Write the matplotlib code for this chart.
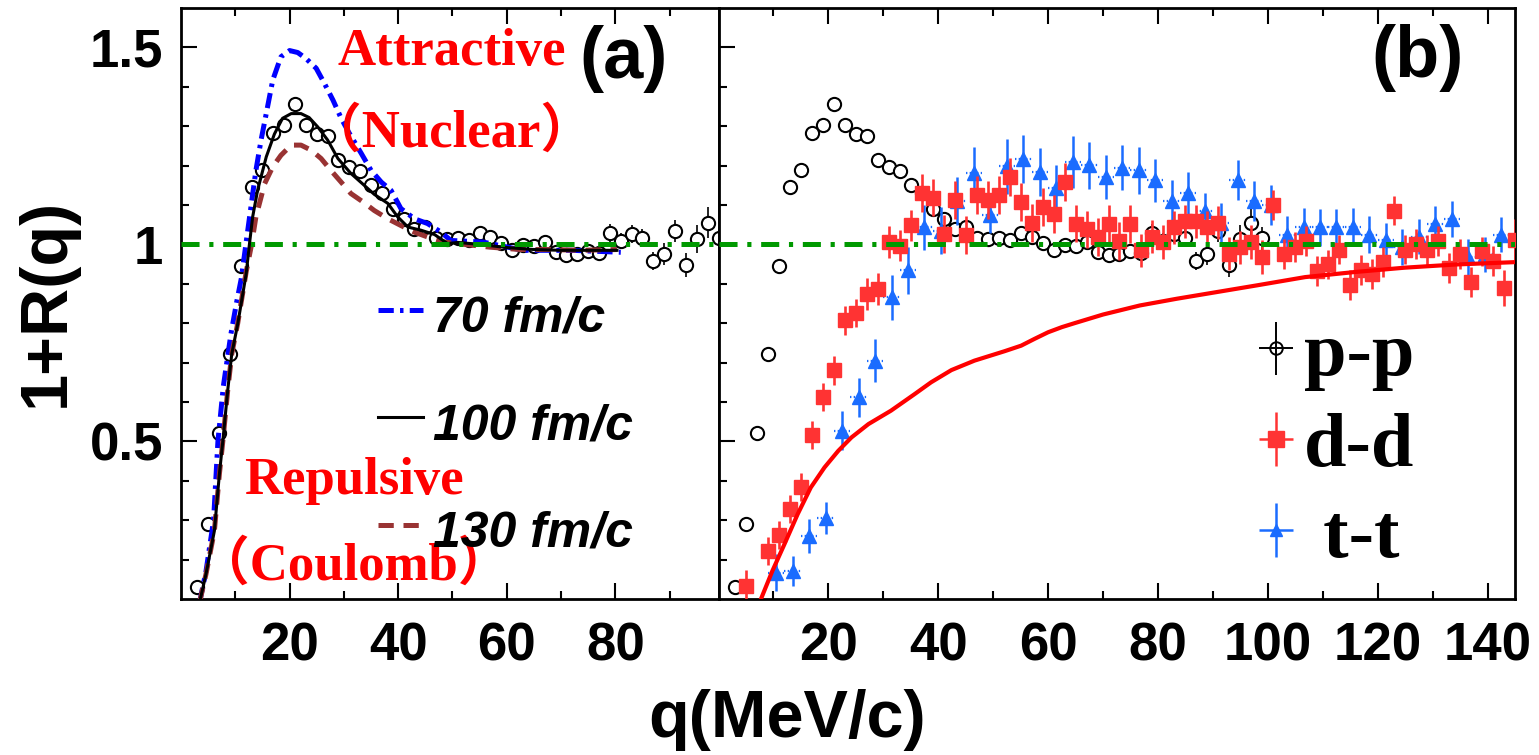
import numpy as np
import matplotlib
matplotlib.use("Agg")
import matplotlib.pyplot as plt
from matplotlib.container import ErrorbarContainer
from matplotlib.legend_handler import HandlerErrorbar

plt.rcParams['font.family'] = ['Liberation Sans', 'DejaVu Sans']
plt.rcParams['font.weight'] = 'bold'
plt.rcParams['lines.scale_dashes'] = False

# ---------------- data ----------------
# p-p correlation function
q_pp = [3, 5, 7, 9, 11, 13, 15, 17, 19, 21, 23, 25, 27, 29, 31, 33, 35, 37, 39, 41,
        43, 45, 47, 49, 51, 53, 55, 57, 59, 61, 63, 65, 67, 69, 71, 73, 75, 77, 79, 81,
        83, 85, 87, 89, 91, 93, 95, 97, 99]
r_pp = [0.13, 0.29, 0.522, 0.722, 0.945, 1.146, 1.19, 1.283, 1.302, 1.357, 1.304, 1.28,
        1.274, 1.213, 1.197, 1.187, 1.152, 1.13, 1.091, 1.065, 1.04, 1.044, 1.017, 1.013,
        1.015, 1.01, 1.03, 1.018, 1.004, 0.987, 0.999, 0.995, 1.005, 0.981, 0.972, 0.976,
        0.984, 0.977, 1.03, 1.008, 1.027, 1.016, 0.958, 0.976, 1.035, 0.947, 1.013, 1.055,
        1.015]
e_pp = [0.006] * 22 + [0.01] * 16 + [0.023, 0.02, 0.023, 0.023, 0.023, 0.028, 0.028,
                                      0.031, 0.036, 0.04, 0.03]

# model p-p curves for three emission times
q_70 = [3.4, 4.6, 6.0, 6.8, 7.8, 9.2, 10.2, 11.1, 12.3, 13.8, 14.75, 15.7, 16.9, 18.4,
        20.0, 21.5, 23.0, 24.9, 26.4, 28.0, 29.5, 31.0, 33.2, 35.0, 36.9, 38.7, 40.5,
        43.0, 45.4, 47.9, 49.7, 55.6, 63.0, 72.0, 81.0]
r_70 = [0.09, 0.17, 0.30, 0.50, 0.64, 0.773, 0.85, 0.913, 1.036, 1.188, 1.265, 1.332,
        1.417, 1.476, 1.492, 1.487, 1.472, 1.447, 1.409, 1.366, 1.32, 1.282, 1.231, 1.188,
        1.158, 1.137, 1.091, 1.065, 1.053, 1.031, 1.01, 1.006, 0.985, 0.985, 0.98]

q_100 = [3.4, 4.6, 6.15, 7.07, 7.7, 8.6, 9.35, 10.45, 12.0, 12.6, 13.2, 14.1, 15.7, 17.2,
         18.7, 20.3, 22.1, 23.6, 25.2, 27.0, 28.9, 31.3, 33.5, 35.6, 38.1, 39.9, 41.8,
         44.2, 46.7, 49.1, 51.0, 55.0, 60.0, 65.0, 70.0, 75.0, 80.3]
r_100 = [0.09, 0.163, 0.273, 0.417, 0.50, 0.629, 0.722, 0.798, 0.925, 1.0, 1.07, 1.137,
         1.222, 1.28, 1.32, 1.332, 1.332, 1.322, 1.298, 1.265, 1.218, 1.18, 1.153, 1.127,
         1.104, 1.07, 1.044, 1.036, 1.025, 1.002, 1.005, 1.0, 0.992, 0.987, 0.985, 0.985,
         0.985]

q_130 = [3.4, 4.6, 6.15, 7.07, 7.7, 8.6, 9.35, 10.45, 12.0, 13.0, 13.8, 15.4, 16.9, 18.4,
         20.3, 22.1, 24.0, 25.8, 27.6, 29.5, 31.3, 33.5, 35.6, 38.1, 40.5, 43.0, 45.4,
         48.5, 51.0, 56.9, 62.4, 68.0, 73.5, 80.3]
r_130 = [0.09, 0.163, 0.273, 0.417, 0.50, 0.629, 0.722, 0.80, 0.93, 1.0, 1.07, 1.154,
         1.197, 1.226, 1.252, 1.252, 1.239, 1.218, 1.188, 1.158, 1.129, 1.108, 1.086,
         1.065, 1.048, 1.031, 1.019, 1.006, 1.002, 0.993, 0.987, 0.987, 0.985, 0.987]

# d-d correlation function
q_dd = [5, 9, 11, 13, 15, 17, 19, 21, 23, 25, 27, 29, 31, 33, 35, 37, 39, 41, 43, 45,
        47, 49, 51, 53, 55, 57, 59, 61, 63, 65, 67, 69, 71, 73, 75, 77, 79, 81, 83, 85,
        87, 89, 91, 93, 95, 97, 99, 101, 103, 105, 107, 109, 111, 113, 115, 117, 119,
        121, 123, 125, 127, 129, 131, 133, 135, 137, 139, 141, 143, 145]
r_dd = [0.133, 0.222, 0.262, 0.328, 0.385, 0.517, 0.613, 0.680, 0.807, 0.826, 0.874,
        0.887, 1.006, 0.997, 1.048, 1.130, 1.119, 1.027, 1.112, 1.023, 1.125, 1.112,
        1.125, 1.171, 1.108, 1.055, 1.095, 1.078, 1.158, 1.053, 1.038, 1.019, 1.052,
        1.008, 1.052, 0.985, 1.019, 1.006, 1.044, 1.059, 1.059, 1.044, 1.055, 0.976,
        0.993, 1.006, 0.968, 1.099, 0.976, 0.993, 1.008, 0.932, 0.949, 0.987, 0.898,
        0.936, 0.925, 0.955, 1.086, 0.987, 1.002, 0.985, 1.008, 0.940, 0.975, 0.904,
        0.982, 0.959, 0.889, 1.01]
e_dd = [0.04] + [0.036] * 9 + [0.04] * 5 + [0.048] * 20 + [0.042] * 12 + [0.038] * 21 \
       + [0.045, 0.055]

# t-t correlation function
q_tt = [10.5, 13.5, 16.5, 19.5, 22.5, 25.5, 28.5, 31.5, 34.5, 37.5, 40.5, 43.5, 46.5,
        49.5, 52.5, 55.5, 58.5, 61.5, 64.5, 67.5, 70.5, 73.5, 76.5, 79.5, 82.5, 85.5,
        88.5, 91.5, 94.5, 97.5, 100.5, 103.5, 106.5, 109.5, 112.5, 115.5, 118.5, 121.5,
        124.5, 127.5, 130.5, 133.5, 136.5, 139.5, 142.5]
r_tt = [0.167, 0.171, 0.26, 0.306, 0.527, 0.612, 0.705, 0.866, 0.934, 1.044, 1.035,
        1.11, 1.18, 1.075, 1.198, 1.216, 1.184, 1.144, 1.208, 1.201, 1.171, 1.195, 1.188,
        1.163, 1.11, 1.13, 1.086, 1.055, 1.163, 1.11, 1.10, 1.023, 1.045, 1.044, 1.044,
        1.045, 1.025, 1.01, 0.993, 1.02, 1.052, 1.065, 0.968, 0.975, 1.025]
e_tt = [0.047, 0.038, 0.042, 0.04, 0.049, 0.049, 0.055, 0.057, 0.059, 0.057, 0.06, 0.06,
        0.066, 0.047, 0.07, 0.061, 0.06, 0.058, 0.066, 0.06, 0.057, 0.057, 0.059, 0.055,
        0.053, 0.055, 0.045, 0.05, 0.051, 0.05, 0.05, 0.048, 0.048, 0.047, 0.047, 0.047,
        0.047, 0.045, 0.045, 0.045, 0.045, 0.045, 0.045, 0.045, 0.045]
tt_bin_half = 1.5

# model d-d curve
q_dd_model = [7.4, 7.7, 9.8, 12.0, 14.4, 16.8, 19.3, 21.8, 24.2, 27.3, 31.4, 35.7, 38.7,
              42.4, 46.6, 52.1, 55.1, 57.5, 60.0, 62.5, 64.8, 70.0, 76.7, 83.4, 90.7,
              98.0, 106.8, 115.9, 125.0, 134.2, 145.0]
r_dd_model = [0.09, 0.099, 0.171, 0.239, 0.315, 0.383, 0.434, 0.476, 0.51, 0.544, 0.578,
              0.62, 0.65, 0.681, 0.705, 0.729, 0.743, 0.76, 0.777, 0.79, 0.80, 0.822,
              0.845, 0.862, 0.879, 0.896, 0.917, 0.93, 0.941, 0.949, 0.955]

# axes ticks
xticks_a = [20, 40, 60, 80]
xminor_a = [10, 30, 50, 70, 90]
xticks_b = [20, 40, 60, 80, 100, 120, 140]
xminor_b = [10, 30, 50, 70, 90, 110, 130]
yticks = [0.5, 1.0, 1.5]
ytick_labels = ['0.5', '1', '1.5']
yminor = [0.2, 0.3, 0.4, 0.6, 0.7, 0.8, 0.9, 1.1, 1.2, 1.3, 1.4]

# ---------------- styles ----------------
C_GREEN = '#009900'
C_BLUE_CURVE = '#0000ff'
C_BROWN = '#993333'
C_RED = '#ff3333'
C_TT = '#1a6cff'
GREEN_DASH = (0, (13, 7, 3, 7))
BLUE_DASH = (0, (11, 4.5, 2.5, 4.5))
BROWN_DASH = (0, (11, 7))

W, H = 1539, 755
fig = plt.figure(figsize=(W / 100, H / 100), dpi=100)
bottom, top = 599, 8
ax_a = fig.add_axes([181 / W, 1 - bottom / H, (718.5 - 181) / W, (bottom - top) / H])
ax_b = fig.add_axes([718.5 / W, 1 - bottom / H, (1515 - 718.5) / W, (bottom - top) / H])

ax_a.set_xlim(0, 99)
ax_b.set_xlim(0, 145)
for ax in (ax_a, ax_b):
    ax.set_ylim(0.1, 1.6)


def style_axes(ax, majors, minors, ylabels):
    ax.set_xticks(majors, labels=[str(v) for v in majors])
    ax.set_xticks(minors, minor=True)
    ax.set_yticks(yticks, labels=ytick_labels)
    ax.set_yticks(yminor, minor=True)
    ax.tick_params(which='both', direction='in', top=True, right=False, left=True,
                   width=1.5, labelsize=38)
    ax.tick_params(which='major', length=11.5)
    ax.tick_params(which='minor', length=5.8)
    ax.tick_params(axis='x', pad=16)
    ax.tick_params(axis='y', pad=13)
    if not ylabels:
        ax.tick_params(axis='y', labelleft=False)
    for s in ax.spines.values():
        s.set_linewidth(2.0)


def draw_pp(ax):
    ax.errorbar(q_pp, r_pp, yerr=e_pp, fmt='none', ecolor='black', elinewidth=1.2,
                capsize=0, zorder=2)
    ax.plot(q_pp, r_pp, 'o', ms=9.5, mfc='white', mec='black', mew=1.5, zorder=2.5)


style_axes(ax_a, xticks_a, xminor_a, True)
style_axes(ax_b, xticks_b, xminor_b, False)

# ---------------- panel (a) ----------------
ax_a.axhline(1.0, color=C_GREEN, lw=3.6, ls=GREEN_DASH, zorder=5)
draw_pp(ax_a)
l70, = ax_a.plot(q_70, r_70, color=C_BLUE_CURVE, lw=3.6, ls=BLUE_DASH, zorder=3)
l130, = ax_a.plot(q_130, r_130, color=C_BROWN, lw=3.6, ls=BROWN_DASH, zorder=4)
l100, = ax_a.plot(q_100, r_100, color='black', lw=2.2, zorder=4)

ax_a.legend([l70, l100, l130], ['70 fm/c', '100 fm/c', '130 fm/c'],
            loc='upper left', bbox_to_anchor=(0.3665, 0.527), frameon=False,
            borderpad=0, borderaxespad=0, handlelength=0.9, handletextpad=0.2,
            handleheight=1.3, labelspacing=1.06,
            prop={'family': 'Liberation Sans', 'weight': 'bold',
                  'style': 'italic', 'size': 36})

red_txt = dict(color='#ff0000', fontsize=38, fontweight='bold',
               family=['Liberation Serif', 'Noto Sans CJK SC'], ha='center', va='baseline')
ax_a.text(49.8, 1.455, 'Attractive', **red_txt)
ax_a.text(49.8, 1.2475, '（Nuclear）', **red_txt)
ax_a.text(31.85, 0.366, 'Repulsive', **red_txt)
ax_a.text(31.85, 0.150, '（Coulomb）', **red_txt)
ax_a.text(73.3, 1.422, '(a)', fontsize=52, fontweight='bold', ha='left', va='baseline')

# ---------------- panel (b) ----------------
ax_b.axhline(1.0, color=C_GREEN, lw=3.6, ls=GREEN_DASH, zorder=6)
draw_pp(ax_b)
tt_x = ax_b.errorbar(q_tt, r_tt, xerr=tt_bin_half, fmt='none', ecolor=C_TT,
                     elinewidth=1.6, capsize=0, zorder=3)
tt_x[2][0].set_linestyle(':')
ax_b.errorbar(q_tt, r_tt, yerr=e_tt, fmt='^', ms=10, color=C_TT, ecolor=C_TT,
              elinewidth=1.8, capsize=0, zorder=3)
ax_b.errorbar(q_dd, r_dd, yerr=e_dd, fmt='s', ms=9.6, color=C_RED, ecolor=C_RED,
              elinewidth=1.9, capsize=0, zorder=4)
ax_b.plot(q_dd_model, r_dd_model, color='#ff0000', lw=3.0, zorder=5)
ax_b.text(118.8, 1.425, '(b)', fontsize=52, fontweight='bold', ha='left', va='baseline')

# legend keys
h_pp = ax_b.errorbar([np.nan], [np.nan], xerr=[1], yerr=[1], fmt='o', ms=9, mfc='none',
                     mec='black', mew=1.4, ecolor='black', elinewidth=1.4, capsize=0)
h_dd = ax_b.errorbar([np.nan], [np.nan], xerr=[1], yerr=[1], fmt='s', ms=11,
                     color=C_RED, ecolor=C_RED, elinewidth=1.8, capsize=0)
h_tt = ax_b.errorbar([np.nan], [np.nan], xerr=[1], yerr=[1], fmt='^', ms=8,
                     color=C_TT, ecolor=C_TT, elinewidth=1.8, capsize=0)
ax_b.legend([h_pp, h_dd, h_tt], ['p-p', 'd-d', ' t-t'],
            handler_map={ErrorbarContainer: HandlerErrorbar(xerr_size=0.22, yerr_size=0.35)},
            loc='upper left', bbox_to_anchor=(0.676, 0.4695), frameon=False,
            borderpad=0, borderaxespad=0, handlelength=0.5, handletextpad=0.11,
            labelspacing=0.28,
            prop={'family': 'Liberation Serif', 'weight': 'bold', 'size': 55})

# axis titles
fig.text(47 / W, 1 - 302 / H, '1+R(q)', rotation=90, fontsize=48, fontweight='bold',
         ha='center', va='center')
fig.text(787 / W, 1 - 720 / H, 'q(MeV/c)', fontsize=48, fontweight='bold',
         ha='center', va='center')

fig.savefig('out.png', dpi=100)
